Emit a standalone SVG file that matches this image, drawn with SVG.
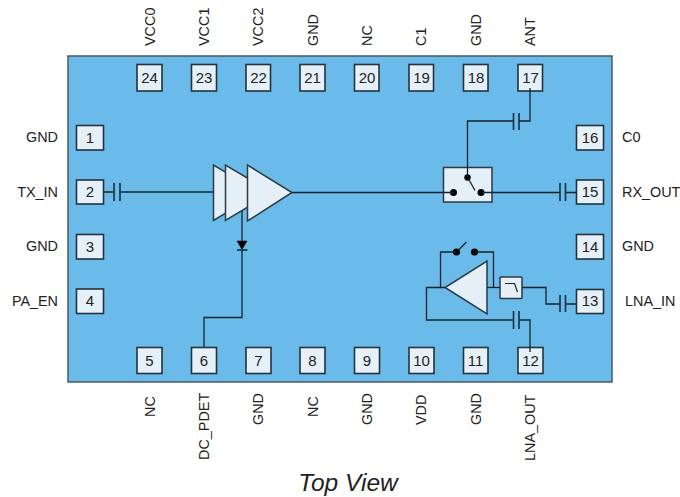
<svg xmlns="http://www.w3.org/2000/svg" width="680" height="497" viewBox="0 0 680 497">
<style>
text{font-family:"Liberation Sans",Arial,sans-serif;font-size:14.4px;fill:#222}
.n{text-anchor:middle;font-size:15px}
.pin{fill:#e6f0f9;stroke:#24333c;stroke-width:1.6}
.w{fill:none;stroke:#15242c;stroke-width:1.3}
.c{fill:none;stroke:#15303f;stroke-width:1.6}
.b{fill:#e4eff8;stroke:#2b3a44;stroke-width:1.5}
</style>
<rect x="68" y="56" width="544" height="326" fill="#6abaea" stroke="#4a5a64" stroke-width="1.5"/>
<g id="amplifier">
<polygon class="b" points="213.500,165 213.500,220.500 260,192.500"/>
<polygon class="b" points="225.500,165 225.500,220.500 272,192.500"/>
<polygon class="b" points="247.500,165 247.500,221 292,192.500"/>
</g>
<g id="diode">
<polygon points="237,241 247,241 242,249.500" fill="#000" stroke="#000" stroke-width="0.5"/>
<path class="c" d="M237 250H247.500"/>
</g>
<g id="switch">
<rect class="b" x="443.500" y="167.500" width="48.500" height="34.500"/>
<circle cx="453.500" cy="192.500" r="3.500"/><circle cx="481" cy="192.500" r="3.500"/><circle cx="467.500" cy="177.500" r="3.200"/>
<path class="w" d="M468 178L475 190.500"/>
</g>
<g id="lna">
<polygon class="b" points="487,261 487,314 445,287.500"/>
</g>
<g id="lna-switch">
<circle cx="456.500" cy="252" r="3.600"/><circle cx="474.500" cy="252" r="3.600"/>
<path class="w" d="M458 250.500L466.500 242"/>
</g>
<g id="filter">
<rect class="b" x="500" y="277" width="22" height="21.500" rx="1"/>
<path fill="none" stroke="#222" stroke-width="1.200" d="M505 283.500H514.500L517.500 292"/>
</g>
<g id="pin1"><rect class="pin" x="76.500" y="125.500" width="27" height="24.500"/><text class="n" x="90" y="143">1</text></g>
<g id="pin2"><rect class="pin" x="76.500" y="180" width="27" height="24"/><text class="n" x="90" y="197">2</text></g>
<g id="pin3"><rect class="pin" x="76.500" y="234.500" width="27" height="24.500"/><text class="n" x="90" y="252">3</text></g>
<g id="pin4"><rect class="pin" x="76.500" y="289" width="27" height="24.500"/><text class="n" x="90" y="306">4</text></g>
<g id="pin5"><rect class="pin" x="137" y="347.500" width="25" height="26"/><text class="n" x="149.500" y="366">5</text></g>
<g id="pin6"><rect class="pin" x="191.500" y="347.500" width="25" height="26"/><text class="n" x="204" y="366">6</text></g>
<g id="pin7"><rect class="pin" x="246" y="347.500" width="25" height="26"/><text class="n" x="258.500" y="366">7</text></g>
<g id="pin8"><rect class="pin" x="300" y="347.500" width="25" height="26"/><text class="n" x="312.500" y="366">8</text></g>
<g id="pin9"><rect class="pin" x="354.500" y="347.500" width="25" height="26"/><text class="n" x="367" y="366">9</text></g>
<g id="pin10"><rect class="pin" x="409" y="347.500" width="25" height="26"/><text class="n" x="421.500" y="366">10</text></g>
<g id="pin11"><rect class="pin" x="463.500" y="347.500" width="24.500" height="26"/><text class="n" x="475.500" y="366">11</text></g>
<g id="pin12"><rect class="pin" x="518" y="347.500" width="25" height="26"/><text class="n" x="530.500" y="366">12</text></g>
<g id="pin13"><rect class="pin" x="576.500" y="289.500" width="27" height="24"/><text class="n" x="590" y="306">13</text></g>
<g id="pin14"><rect class="pin" x="576.500" y="234.500" width="27" height="24.500"/><text class="n" x="590" y="252">14</text></g>
<g id="pin15"><rect class="pin" x="576.500" y="180" width="27" height="24"/><text class="n" x="590" y="197">15</text></g>
<g id="pin16"><rect class="pin" x="576.500" y="125.500" width="27" height="24.500"/><text class="n" x="590" y="143">16</text></g>
<g id="pin17"><rect class="pin" x="518" y="64.500" width="24.500" height="26.500"/><text class="n" x="530.500" y="83">17</text></g>
<g id="pin18"><rect class="pin" x="463.500" y="64.500" width="24.500" height="26.500"/><text class="n" x="476" y="83">18</text></g>
<g id="pin19"><rect class="pin" x="409" y="64.500" width="24.500" height="26.500"/><text class="n" x="421.500" y="83">19</text></g>
<g id="pin20"><rect class="pin" x="354.500" y="64.500" width="24.500" height="26.500"/><text class="n" x="367" y="83">20</text></g>
<g id="pin21"><rect class="pin" x="300" y="64.500" width="25" height="26.500"/><text class="n" x="312.500" y="83">21</text></g>
<g id="pin22"><rect class="pin" x="246" y="64.500" width="24.500" height="26.500"/><text class="n" x="258.500" y="83">22</text></g>
<g id="pin23"><rect class="pin" x="191.500" y="64.500" width="25" height="26.500"/><text class="n" x="204" y="83">23</text></g>
<g id="pin24"><rect class="pin" x="137" y="64.500" width="25" height="26.500"/><text class="n" x="149.500" y="83">24</text></g>
<g id="connectors">
<path class="w" d="M104 192H114M120 192H214"/>
<path class="w" d="M292 192.500H453.500"/>
<path class="w" d="M242 211V241M242 250V317.500H204V347"/>
<path class="w" d="M467.500 177V121H513.500M519 121H530V88"/>
<path class="w" d="M481 192.500H560M565.500 192.500H576"/>
<path class="w" d="M522 287.500H546V304H560M565.500 304H576"/>
<path class="w" d="M487 287.500H500"/>
<path class="w" d="M445 287.500H426.500V320H513.500M519 320H530V352"/>
<path class="w" d="M440.500 287.500V252H456.500M474.500 252H493.500V287.500"/>
<path class="c" d="M114 183V201M120 183V201M513.500 113V130M519 113V130M560 183V201M565.500 183V201M560 295V312M565.500 295V312M513.500 311V329M519 311V329"/>
</g>
<g id="labels">
<text x="58" y="142" text-anchor="end">GND</text>
<text x="58" y="197" text-anchor="end">TX_IN</text>
<text x="58" y="251" text-anchor="end">GND</text>
<text x="58" y="306" text-anchor="end">PA_EN</text>
<text x="622" y="142">C0</text>
<text x="622" y="197">RX_OUT</text>
<text x="622" y="251">GND</text>
<text x="625" y="306">LNA_IN</text>
<text transform="translate(154.500 46) rotate(-90)">VCC0</text>
<text transform="translate(209 46) rotate(-90)">VCC1</text>
<text transform="translate(263 46) rotate(-90)">VCC2</text>
<text transform="translate(317.500 46) rotate(-90)">GND</text>
<text transform="translate(371.500 46) rotate(-90)">NC</text>
<text transform="translate(426 46) rotate(-90)">C1</text>
<text transform="translate(480.500 46) rotate(-90)">GND</text>
<text transform="translate(535 46) rotate(-90)">ANT</text>
<text transform="translate(154.500 417) rotate(-90)">NC</text>
<text transform="translate(209 460) rotate(-90)">DC_PDET</text>
<text transform="translate(263 425) rotate(-90)">GND</text>
<text transform="translate(317.500 417) rotate(-90)">NC</text>
<text transform="translate(371.500 425) rotate(-90)">GND</text>
<text transform="translate(426 425) rotate(-90)">VDD</text>
<text transform="translate(480.500 425) rotate(-90)">GND</text>
<text transform="translate(535 461) rotate(-90)">LNA_OUT</text>
<text x="348" y="491" text-anchor="middle" font-style="italic" style="font-size:24.500px">Top View</text>
</g>
</svg>
